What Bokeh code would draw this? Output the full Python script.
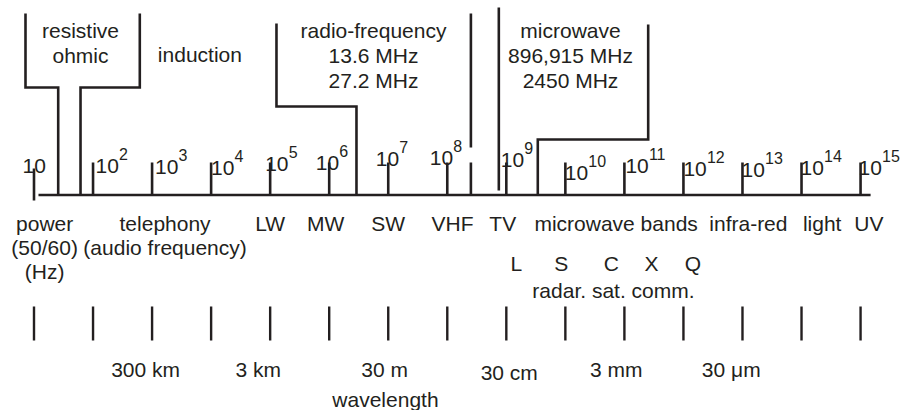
from bokeh.plotting import figure
from bokeh.models import Range1d, ColumnDataSource
from bokeh.core.properties import value
from bokeh.embed import file_html
from bokeh.resources import INLINE

# ---------------- data (frequency as log10(Hz)) ----------------
EXPONENTS = [1, 2, 3, 4, 5, 6, 7, 8, 9, 10, 11, 12, 13, 14, 15]
SUPERSCRIPTS = ["", "2", "3", "4", "5", "6", "7", "8", "9", "10", "11", "12", "13", "14", "15"]

# application brackets (log10 f)
RESIST_OUTER = [0.856, 2.792]
RESIST_STEM = [1.41, 1.788]
RF_BOX = [5.107, 6.462]
RF_LINE = 8.40
MW_LINE = 8.873
MW_BOX = [9.533, 11.403]
AXIS_SPAN = [1.076, 15.17]

TOP_TITLES = [["resistive", "ohmic"], ["induction"],
              ["radio-frequency", "13.6 MHz", "27.2 MHz"],
              ["microwave", "896,915 MHz", "2450 MHz"]]
TOP_AT = [1.788, 3.81, 6.75, 10.087]

BAND_NAMES = ["LW", "MW", "SW", "VHF", "TV", "microwave bands", "infra-red", "light", "UV"]
BAND_AT = [5.0, 5.94, 7.0, 8.09, 8.94, 10.86, 13.1, 14.35, 15.14]
POWER_LINES = ["power", "(50/60)", "(Hz)"]
POWER_AT = 1.18
TELEPHONY_LINES = ["telephony", "(audio frequency)"]
TELEPHONY_AT = 3.22

RADAR_BANDS = ["L", "S", "C", "X", "Q"]
RADAR_AT = [9.17, 9.93, 10.78, 11.46, 12.16]
RADAR_TITLE = "radar. sat. comm."
RADAR_TITLE_AT = 10.815

WAVE_LABELS = ["300 km", "3 km", "30 m", "30 cm", "3 mm", "30 \u03bcm"]
WAVE_AT = [2.89, 4.80, 6.94, 9.05, 10.86, 12.81]
WAVE_TITLE = "wavelength"
WAVE_TITLE_AT = 6.953

# ---------------- layout (screen-like y levels, px offsets) ----------------
LABEL_DX = [-11.5, 2.5, 3, 0, -5, -13.5, -12.5, -17.5, -5.5, -0.5, 1, 0, -1, -1, -2]
LABEL_BASE = [165, 165, 166, 167, 163, 162, 158, 157, 159, 172, 165, 168, 169, 167, 167]
WAVE_BASE = [369, 369, 369, 372, 369, 369]

Y_AXIS = 194.5
Y_TICK_TOP = 162
INK = "#231f20"
FONT = value("Liberation Sans")
LW = 2.6

p = figure(width=906, height=410, x_range=Range1d(0.4326, 15.7781),
           y_range=Range1d(410, 0), x_axis_location=None, y_axis_location=None,
           toolbar_location=None, output_backend="svg", min_border=0,
           outline_line_color=None, background_fill_color="white")
p.grid.visible = False

# brackets & axis
xs = [
    [RESIST_OUTER[0], RESIST_OUTER[0], RESIST_STEM[0], RESIST_STEM[0]],
    [RESIST_STEM[1], RESIST_STEM[1], RESIST_OUTER[1], RESIST_OUTER[1]],
    [RF_BOX[0], RF_BOX[0], RF_BOX[1], RF_BOX[1]],
    [RF_LINE, RF_LINE],
    [RF_LINE, RF_LINE],
    [MW_LINE, MW_LINE],
    [MW_BOX[0], MW_BOX[0], MW_BOX[1], MW_BOX[1]],
    AXIS_SPAN,
]
ys = [
    [13, 87, 87, Y_AXIS],
    [Y_AXIS, 87, 87, 13],
    [23, 106, 106, Y_AXIS],
    [13, 147],
    [Y_TICK_TOP, Y_AXIS],
    [7, 190],
    [Y_AXIS, 139, 139, 24],
    [Y_AXIS, Y_AXIS],
]
p.multi_line(xs=xs, ys=ys, line_color=INK, line_width=LW, line_join="miter", line_cap="butt")

# frequency ticks
tick_top = [168] + [Y_TICK_TOP] * 14
tick_bot = [200] + [Y_AXIS] * 14
p.segment(x0=EXPONENTS, y0=tick_top, x1=EXPONENTS, y1=tick_bot,
          line_color=INK, line_width=LW, line_cap="butt")

# wavelength ticks
p.segment(x0=EXPONENTS, y0=[306] * 15, x1=EXPONENTS, y1=[340] * 15,
          line_color=INK, line_width=2.4, line_cap="butt")

# frequency labels 10^n
src = ColumnDataSource(dict(x=EXPONENTS, y=LABEL_BASE, dx=LABEL_DX,
                            sdx=[d + 23.5 for d in LABEL_DX],
                            sy=[b - 12 for b in LABEL_BASE],
                            main=["10"] * 15, sup=SUPERSCRIPTS))
p.text(x="x", y="y", text="main", x_offset="dx", source=src, text_font=FONT,
       text_font_size="21px", text_align="left", text_baseline="alphabetic", text_color=INK)
p.text(x="x", y="sy", text="sup", x_offset="sdx", source=src, text_font=FONT,
       text_font_size="16px", text_align="left", text_baseline="alphabetic", text_color=INK)

def label(xv, yv, txt):
    p.text(x=xv, y=yv, text=txt, text_font=FONT, text_font_size="21px",
           text_align="center", text_baseline="alphabetic", text_color=INK)

# top titles
top_base = [30, 55, 80]
tx, ty, tt = [], [], []
for lines, at in zip(TOP_TITLES, TOP_AT):
    if len(lines) == 1:
        tx.append(at); ty.append(54); tt.append(lines[0])
    else:
        for i, s in enumerate(lines):
            tx.append(at); ty.append(top_base[i]); tt.append(s)
label(tx, ty, tt)

# bands
label(BAND_AT, [223] * len(BAND_NAMES), BAND_NAMES)
label([POWER_AT] * 3, [223, 247, 271], POWER_LINES)
label([TELEPHONY_AT] * 2, [223, 247], TELEPHONY_LINES)
label(RADAR_AT, [263] * len(RADAR_BANDS), RADAR_BANDS)
label([RADAR_TITLE_AT], [290], [RADAR_TITLE])
label(WAVE_AT, WAVE_BASE, WAVE_LABELS)
label([WAVE_TITLE_AT], [399], [WAVE_TITLE])

open("out.html", "w").write(file_html(p, INLINE))
